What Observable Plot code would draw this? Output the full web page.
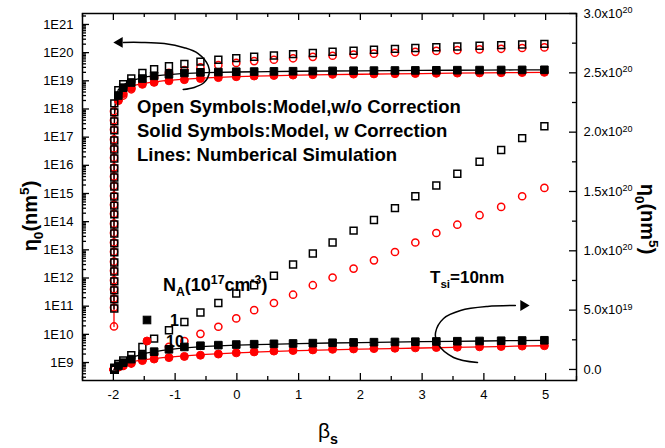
<!DOCTYPE html>
<html><head><meta charset="utf-8">
<script src="https://cdn.jsdelivr.net/npm/d3@7"></script>
<script src="https://cdn.jsdelivr.net/npm/@observablehq/plot@0.6"></script>
<style>
body{margin:0;background:#fff;}
#wrap{position:relative;width:665px;height:448px;}
#wrap svg{position:absolute;left:0;top:0;}
</style></head><body><div id="wrap"></div>
<script>
// ---------- data (values ×1e20 on the regular grid) ----------
const xGrid = [-1.92,-1.84,-1.71,-1.53,-1.34,-1.10,-0.85,-0.59,-0.30,-0.01,0.28,0.60,0.91,1.23,1.55,1.89,2.22,2.56,2.89,3.23,3.57,3.93,4.28,4.62,4.98];
const openSq1   = [0.046,0.075,0.12,0.19,0.26,0.33,0.40,0.48,0.56,0.64,0.71,0.79,0.885,0.977,1.07,1.17,1.26,1.36,1.46,1.55,1.65,1.75,1.85,1.95,2.05];
const openCi10  = [0.02,0.03,0.05,0.085,0.13,0.19,0.24,0.30,0.36,0.43,0.50,0.56,0.63,0.71,0.775,0.85,0.92,0.99,1.07,1.15,1.22,1.30,1.37,1.46,1.53];
const solidSq1  = [0.03,0.057,0.087,0.12,0.15,0.17,0.19,0.20,0.205,0.21,0.213,0.216,0.219,0.222,0.225,0.228,0.23,0.232,0.234,0.236,0.238,0.24,0.242,0.244,0.246];
const solidCi10 = [0.02,0.035,0.055,0.075,0.088,0.10,0.11,0.12,0.13,0.14,0.148,0.155,0.16,0.165,0.17,0.173,0.176,0.179,0.182,0.185,0.188,0.191,0.194,0.197,0.20];
// steep part right at beta_s = -2 (log10 of eta0)
const stackXSq = -1.985, stackXCi = -1.99;
const stackSqLog = [10.92,11.24,11.56,11.88,12.23,12.55,12.91,13.23,13.58,13.90,14.26,14.57,14.89,15.25,15.57,15.89,16.24,16.56,16.88,17.24,17.56,17.88,18.2];
const stackCiLog = [10.28,10.95,11.27,11.6,11.92,12.26,12.58,12.93,13.26,13.6,13.93,14.28,14.6,14.92,15.27,15.6,15.92,16.27,16.6,16.92,17.27,17.6,17.92];
// numerical simulation lines
const simX     = [-1.99,-1.99,-1.988,-1.98,-1.96,-1.92,-1.86,-1.78,-1.65,-1.45,-1.2,-0.9,-0.5,0,0.5,1,1.5,2,2.5,3,3.5,4,4.5,5];
const simBlack = [8e10,1e14,1e17,1e18,2.5e18,4.8e18,6.5e18,8.5e18,1.1e19,1.4e19,1.6e19,1.8e19,1.95e19,2.05e19,2.12e19,2.18e19,2.23e19,2.27e19,2.31e19,2.34e19,2.37e19,2.4e19,2.43e19,2.46e19];
const simRed   = [1.9e10,1e14,8e16,6e17,1.5e18,3e18,4.2e18,5.5e18,7e18,8.5e18,1.0e19,1.12e19,1.27e19,1.4e19,1.5e19,1.58e19,1.65e19,1.71e19,1.76e19,1.81e19,1.86e19,1.91e19,1.96e19,2.0e19];
// axis ticks
const xMajor = [-2,-1,0,1,2,3,4,5];
const xMinor = [-2.5,-1.5,-0.5,0.5,1.5,2.5,3.5,4.5,5.5];
const logExps = [9,10,11,12,13,14,15,16,17,18,19,20,21];
const rightMajor = [0,0.5e20,1.0e20,1.5e20,2.0e20,2.5e20,3.0e20];
const rightMinor = [0.25e20,0.75e20,1.25e20,1.75e20,2.25e20,2.75e20];
// annotation arrows
const arrowTopX = [-0.869,-0.691,-0.530,-0.449,-0.465,-0.627,-0.853,-1.176,-1.548,-1.838];
const arrowTopY = [4.9e18,5.8e18,8.7e18,1.8e19,3.5e19,9.3e19,1.5e20,2.1e20,2.3e20,2.3e20];
const arrowTopHead = {x:-1.90, v:2.3e20};
const arrowBotX = [3.897,3.509,3.250,3.218,3.347,3.622,4.058,4.510];
const arrowBotY = [0.059e20,0.101e20,0.219e20,0.312e20,0.430e20,0.497e20,0.531e20,0.539e20];
const arrowBotHead = {x:4.64, v:0.539e20};

// ---------- build rows ----------
const gridRows = vs => xGrid.map((x,i)=>({x, v: vs[i]*1e20}));
const stackRows = (x, logs) => logs.map(l=>({x, v: Math.pow(10,l)}));
const openSqRows  = stackRows(stackXSq, stackSqLog).concat(gridRows(openSq1));
const openCiRows  = stackRows(stackXCi, stackCiLog).concat(gridRows(openCi10));
const solidSqRows = gridRows(solidSq1);
const solidCiRows = gridRows(solidCi10);
const simBlackRows = simX.map((x,i)=>({x, v: simBlack[i]}));
const simRedRows   = simX.map((x,i)=>({x, v: simRed[i]}));
const arrowTopRows = arrowTopX.map((x,i)=>({x, v: arrowTopY[i]}));
const arrowBotRows = arrowBotX.map((x,i)=>({x, v: arrowBotY[i]}));

// ---------- layout ----------
const W=665, H=448, mL=82, mR=89, mT=13, mB=68;
const FW=W-mL-mR, FH=H-mT-mB;
const xDomain=[-2.5,5.5];
const logDomain=[2.3e8, 2.45e21];
const linDomain=[-0.093e20, 3.0e20];
const BLACK="#000", RED="#ff0000";
const TL=7, TS=4;
const decades = logExps.map(e=>Math.pow(10,e));
const minorLog = [];
for (let e=8;e<=21;e++) for (let m=2;m<=9;m++){const v=m*Math.pow(10,e); if(v>logDomain[0]&&v<logDomain[1]) minorLog.push(v);}

function yTicks(vals, side, len){
  return Plot.tickY(vals,{y:d=>d, stroke:BLACK, strokeWidth:1.3,
    insetLeft: side==="right"? FW-len:0, insetRight: side==="left"? FW-len:0});
}
function xTicks(vals, side, len){
  return Plot.tickX(vals,{x:d=>d, stroke:BLACK, strokeWidth:1.3,
    insetTop: side==="bottom"? FH-len:0, insetBottom: side==="top"? FH-len:0});
}
function dataMarks(){
  return [
    Plot.line(simRedRows,{x:"x",y:"v",stroke:RED,strokeWidth:1.3}),
    Plot.line(simBlackRows,{x:"x",y:"v",stroke:BLACK,strokeWidth:1.3}),
    Plot.dot(openCiRows,{x:"x",y:"v",r:3.6,stroke:RED,fill:"none",strokeWidth:1.5}),
    Plot.dot(solidCiRows,{x:"x",y:"v",r:4,stroke:RED,fill:RED,strokeWidth:1}),
    Plot.dot(openSqRows,{x:"x",y:"v",symbol:"square",r:3.9,stroke:BLACK,fill:"none",strokeWidth:1.5}),
    Plot.dot(solidSqRows,{x:"x",y:"v",symbol:"square",r:4.3,stroke:BLACK,fill:BLACK,strokeWidth:1})
  ];
}
const baseStyle = {fontFamily:"'Liberation Sans', Arial, sans-serif", fontSize:"13px", color:"#000", background:"transparent", overflow:"visible"};

const p1 = Plot.plot({
  width:W, height:H, marginLeft:mL, marginRight:mR, marginTop:mT, marginBottom:mB,
  x:{domain:xDomain}, y:{type:"log", domain:logDomain},
  style: baseStyle,
  marks:[
    yTicks(decades,"left",TL), yTicks(minorLog,"left",TS),
    xTicks(xMajor,"bottom",TL), xTicks(xMinor,"bottom",TS),
    xTicks(xMajor,"top",TL), xTicks(xMinor,"top",TS),
    Plot.axisY({anchor:"left", ticks:decades, tickSize:0, tickPadding:9, label:null,
      tickFormat:d=>"1E"+Math.round(Math.log10(d))}),
    Plot.axisX({anchor:"bottom", ticks:xMajor, tickSize:0, tickPadding:9, label:null,
      tickFormat:d=>String(d)}),
    ...dataMarks(),
    Plot.line(arrowTopRows,{x:"x",y:"v",curve:"catmull-rom",stroke:BLACK,strokeWidth:1.5}),
    Plot.dot([arrowTopHead],{x:"x",y:"v",symbol:"triangle",r:4,rotate:-90,fill:BLACK,stroke:"none"}),
    Plot.frame({stroke:BLACK, strokeWidth:1.5})
  ]
});

const fmtRight = d => {
  if (d===0) return "0.0";
  const e = Math.floor(Math.log10(d)+1e-9);
  return (d/Math.pow(10,e)).toFixed(1)+"x10^"+e;
};
const p2 = Plot.plot({
  width:W, height:H, marginLeft:mL, marginRight:mR, marginTop:mT, marginBottom:mB,
  x:{domain:xDomain, axis:null}, y:{domain:linDomain},
  style: baseStyle,
  marks:[
    yTicks(rightMajor,"right",TL), yTicks(rightMinor,"right",TS),
    Plot.axisY({anchor:"right", ticks:rightMajor, tickSize:0, tickPadding:7, label:null, tickFormat:fmtRight}),
    ...dataMarks(),
    Plot.line(arrowBotRows,{x:"x",y:"v",curve:"catmull-rom",stroke:BLACK,strokeWidth:1.5}),
    Plot.dot([arrowBotHead],{x:"x",y:"v",symbol:"triangle",r:4,rotate:90,fill:BLACK,stroke:"none"})
  ]
});
// superscripts in right tick labels
d3.select(p2).selectAll('g[aria-label="y-axis tick label"] text').each(function(){
  const s=this.textContent, i=s.indexOf("^");
  if (i<0) return;
  const t=d3.select(this); t.text(s.slice(0,i));
  t.append("tspan").attr("dy","-0.5em").attr("font-size","9px").text(s.slice(i+1));
});

// ---------- annotation layer ----------
const ov = d3.create("svg").attr("width",W).attr("height",H)
  .style("font-family","'Liberation Sans', Arial, sans-serif").style("overflow","visible");
function rich(x, y, parts, size, opts={}){
  const t = ov.append("text").attr("x",x).attr("y",y).attr("font-size",size)
    .attr("font-weight", opts.weight||"bold").attr("fill","#000");
  if (opts.anchor) t.attr("text-anchor",opts.anchor);
  if (opts.rotate!=null) t.attr("transform",`rotate(${opts.rotate},${x},${y})`);
  let shift=0;
  parts.forEach(p=>{
    const [txt, mode, w] = Array.isArray(p)? p : [p,"n"];
    let target = mode==="sub"? size*0.28 : mode==="sup"? -size*0.38 : 0;
    const ts = t.append("tspan").attr("dy", target-shift).text(txt);
    if (mode!=="n") ts.attr("font-size", size*0.68);
    if (w) ts.attr("font-weight", w);
    shift = target;
  });
  return t;
}
rich(137,113,["Open Symbols:Model,w/o Correction"],18.5);
rich(137,137,["Solid Symbols:Model, w Correction"],18.5);
rich(137,161,["Lines: Numberical Simulation"],18.5);
rich(163,291,["N",["A","sub"],"(10",["17","sup"],"cm",["-3","sup"],")"],18);
rich(170,326,["1"],16);
rich(166,347,["10"],16);
rich(430,283,["T",["si","sub"],"=10nm"],17);
rich(37,216,["η",["0","sub"],"(nm",["5","sup"],")"],20,{anchor:"middle",rotate:-90});
rich(641,219,["η",["0","sub"],"(nm",["5","sup"],")"],20,{anchor:"middle",rotate:90});
rich(318,438,["β",["s","sub","bold"]],21,{weight:"normal"});
// legend swatches
ov.append("rect").attr("x",143.2).attr("y",316.2).attr("width",7.6).attr("height",7.6).attr("fill",BLACK).attr("stroke",BLACK);
ov.append("circle").attr("cx",147).attr("cy",341).attr("r",4).attr("fill",RED).attr("stroke",RED);

const wrap = document.getElementById("wrap");
wrap.appendChild(p1);
wrap.appendChild(p2);
wrap.appendChild(ov.node());
</script>
</body></html>
